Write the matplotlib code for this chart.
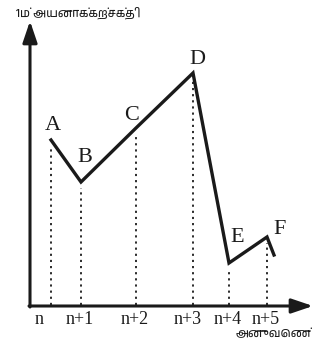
import matplotlib
matplotlib.use('Agg')

import matplotlib.pyplot as plt
from matplotlib import font_manager

# schematic: first ionisation energy across a period
points = ['A', 'B', 'C', 'D', 'E', 'F']
tick_labels = ['n', 'n+1', 'n+2', 'n+3', 'n+4', 'n+5']
point_x = [21, 51, 106, 163, 199, 237]
energy = [166, 124, 178, 233, 43, 69]
tail_x, tail_y = 244, 51

y_title = '1ம் அயனாக்கற்சக்தி'
x_title = 'அனுவெண்'

# look for any font that can draw Tamil
tamil = [f.name for f in font_manager.fontManager.ttflist if 'tamil' in f.name.lower()]
tamil_family = list(dict.fromkeys(tamil)) + ['DejaVu Sans']

W, H = 326, 344
fig = plt.figure(figsize=(W / 100, H / 100), dpi=100)
ax = fig.add_axes([30 / W, 38 / H, 290 / W, 300 / H])
ax.set_xlim(0, 290)
ax.set_ylim(0, 300)
ax.axis('off')

ink = '#1a1a1a'

# axes with arrow heads
arrow = dict(arrowstyle='-|>,head_length=0.65,head_width=0.22', color=ink, lw=2.2,
             mutation_scale=20, shrinkA=0, shrinkB=0)
ax.annotate('', xy=(0, 285), xytext=(0, -1), arrowprops=arrow, annotation_clip=False)
ax.annotate('', xy=(283, 0), xytext=(-1, 0), arrowprops=arrow, annotation_clip=False)

# dotted drop lines
for x, y in zip(point_x, energy):
    ax.plot([x, x], [1, y - 6], ls=(0, (1.2, 2.2)), color=ink, lw=1.3)

# the trend line
ax.plot(point_x + [tail_x], energy + [tail_y], color=ink, lw=2.4, solid_joinstyle='miter')

label_off = [(2, 14), (4, 24), (-4, 12), (4, 13), (8, 26), (13, 7)]
for p, x, y, (dx, dy) in zip(points, point_x, energy, label_off):
    ax.text(x + dx, y + dy, p, ha='center', va='center', family='Liberation Serif',
            fontsize=16, color=ink)

tick_shift = [-12, -1, -1, -5, -1, -1]
for lab, x, dx in zip(tick_labels, point_x, tick_shift):
    ax.text(x + dx, -14, lab, ha='center', va='center', family='Liberation Serif',
            fontsize=13, color=ink)

fig.text(16 / W, 1 - 13 / H, y_title, ha='left', va='center', family=tamil_family,
         fontsize=8.5, color=ink)
fig.text(311 / W, 1 - 334 / H, x_title, ha='right', va='center', family=tamil_family,
         fontsize=8.5, color=ink)

fig.savefig('out.png', dpi=100)
